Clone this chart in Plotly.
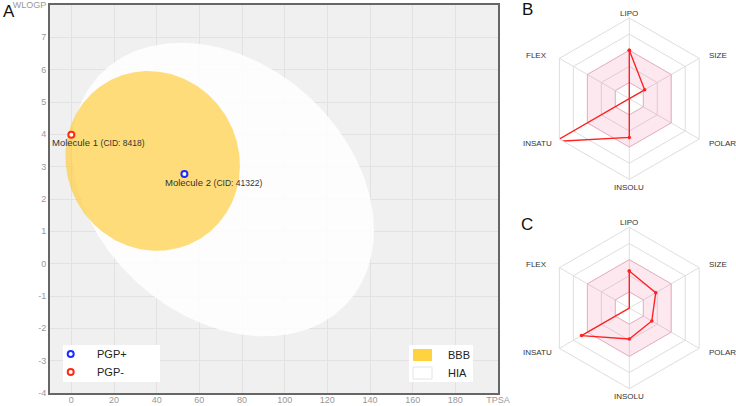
import numpy as np
import plotly.graph_objects as go

W, H = 736, 406

# ---------------- data ----------------
mol_names = ["Molecule 1", "Molecule 2"]
mol_cids = ["8418", "41322"]
mol_tpsa = [0.0, 53.0]
mol_wlogp = [3.99, 2.77]
mol_pgp = ["PGP-", "PGP+"]

# ellipse model: centre x, centre y, x half-extent, y half-extent, x/y correlation
bbb_ellipse = [38.117, 3.177, 40.9, 2.78, -0.05]
hia_ellipse = [71.051, 2.292, 70.8, 4.54, -0.277]

x_tickvals = [0, 20, 40, 60, 80, 100, 120, 140, 160, 180, 200]
x_ticktext = ["0", "20", "40", "60", "80", "100", "120", "140", "160", "180", "TPSA"]
y_tickvals = [-4, -3, -2, -1, 0, 1, 2, 3, 4, 5, 6, 7, 8]
y_ticktext = ["-4", "-3", "-2", "-1", "0", "1", "2", "3", "4", "5", "6", "7", "WLOGP"]

radar_axes = ["LIPO", "SIZE", "POLAR", "INSOLU", "INSATU", "FLEX"]
radar_mol1 = [3.0, 1.1, 0.0, 2.4, 5.29, 0.0]
radar_mol2 = [2.29, 1.89, 1.61, 1.92, 3.42, 0.0]
optimal_low = [1, 1, 1, 1, 1, 1]
optimal_high = [3, 3, 3, 3, 3, 3]

# ---------------- helpers ----------------
def px2x(px):
    return px / W

def px2y(py):
    return 1 - py / H

def ellipse(p, n=361):
    cx, cy, rx, ry, rho = p
    t = np.linspace(0, 2 * np.pi, n)
    x = cx + rx * np.cos(t)
    y = cy + ry * (rho * np.cos(t) + np.sqrt(1 - rho ** 2) * np.sin(t))
    return x, y

FONT = "Liberation Sans, Arial"
fig = go.Figure()
shapes = []
annotations = []

hx, hy = ellipse(hia_ellipse)
fig.add_trace(go.Scatter(x=hx, y=hy, mode="lines", fill="toself",
                         fillcolor="rgba(255,255,255,0.86)", line=dict(width=0),
                         hoverinfo="skip", showlegend=False))
bx, by = ellipse(bbb_ellipse)
fig.add_trace(go.Scatter(x=bx, y=by, mode="lines", fill="toself",
                         fillcolor="rgba(255,202,48,0.64)", line=dict(width=0),
                         hoverinfo="skip", showlegend=False))

pgp_colors = {"PGP+": "#1a2cff", "PGP-": "#ff2a12"}
for i in range(len(mol_names)):
    fig.add_trace(go.Scatter(x=[mol_tpsa[i]], y=[mol_wlogp[i]], mode="markers",
                             marker=dict(symbol="circle", size=6, color="white",
                                         line=dict(color=pgp_colors[mol_pgp[i]], width=2)),
                             showlegend=False, cliponaxis=False))
    annotations.append(dict(x=mol_tpsa[i], y=mol_wlogp[i], xref="x", yref="y",
                            text=f"{mol_names[i]} <span style='font-size:8.5px'>(CID: {mol_cids[i]})</span>",
                            showarrow=False, xanchor="left", yanchor="middle",
                            xshift=-21, yshift=-8,
                            font=dict(family=FONT, size=9.5, color="#333")))

# ---------------- radar charts ----------------
R = 80.7
centers = {"polar": (629.3, 98.7), "polar2": (629.3, 308.0)}
# label placement per axis: (dx, dy) in px from the centre, xanchor
label_place = [(0, -(R + 4.5), "center"),
               (R * 0.866 + 8, -R / 2 - 3, "left"),
               (R * 0.866 + 8, R / 2 + 4, "left"),
               (0, R + 8, "center"),
               (-(R * 0.866 + 5), R / 2 + 4, "right"),
               (-(R * 0.866 + 10), -R / 2 - 3, "right")]

def radar(polar_id, vals):
    th_closed = radar_axes + [radar_axes[0]]
    ring_theta = th_closed + [radar_axes[0]] + radar_axes[::-1]
    ring_r = optimal_high + [optimal_high[0]] + [optimal_low[0]] + optimal_low[::-1]
    fig.add_trace(go.Scatterpolar(r=ring_r, theta=ring_theta, mode="lines", fill="toself",
                                  fillcolor="rgba(240,100,150,0.15)", line=dict(width=0),
                                  subplot=polar_id, hoverinfo="skip", showlegend=False))
    for lim in (optimal_high, optimal_low):
        fig.add_trace(go.Scatterpolar(r=lim + [lim[0]], theta=th_closed, mode="lines",
                                      line=dict(color="rgba(235,150,175,0.55)", width=1),
                                      subplot=polar_id, hoverinfo="skip", showlegend=False))
    fig.add_trace(go.Scatterpolar(r=vals + [vals[0]], theta=th_closed, mode="lines+markers",
                                  line=dict(color="#ff2222", width=1.4),
                                  marker=dict(size=3.5, color="#ff2222"),
                                  subplot=polar_id, showlegend=False))
    cx, cy = centers[polar_id]
    for name, (dx, dy, xa) in zip(radar_axes, label_place):
        annotations.append(dict(x=px2x(cx + dx), y=px2y(cy + dy), xref="paper", yref="paper",
                                text=name, showarrow=False, xanchor=xa, yanchor="middle",
                                font=dict(family=FONT, size=8, color="#333")))

radar("polar", radar_mol1)
radar("polar2", radar_mol2)

def polar_layout(pid):
    cx, cy = centers[pid]
    return dict(
        domain=dict(x=[px2x(cx - R), px2x(cx + R)], y=[px2y(cy + R), px2y(cy - R)]),
        bgcolor="rgba(0,0,0,0)",
        gridshape="linear",
        radialaxis=dict(range=[0, 5], tickvals=[1, 2, 3, 4], showticklabels=False,
                        ticks="", showline=False, gridcolor="#dedede", gridwidth=1),
        angularaxis=dict(type="category", categoryarray=radar_axes, rotation=90,
                         direction="clockwise", showline=True, linecolor="#dedede",
                         linewidth=1, gridcolor="#dedede", ticks="",
                         showticklabels=False),
    )

# legend PGP
shapes.append(dict(type="rect", xref="paper", yref="paper",
                   x0=px2x(63), x1=px2x(160), y0=px2y(382), y1=px2y(345),
                   fillcolor="white", line=dict(width=0), layer="above"))
for lab, py in (("PGP+", 354), ("PGP-", 372)):
    shapes.append(dict(type="circle", xref="paper", yref="paper",
                       x0=px2x(67.7), x1=px2x(73.7), y0=px2y(py + 3), y1=px2y(py - 3),
                       fillcolor="white", line=dict(color=pgp_colors[lab], width=2), layer="above"))
    annotations.append(dict(x=px2x(95), y=px2y(py), xref="paper", yref="paper", text=lab,
                            showarrow=False, xanchor="left", yanchor="middle",
                            font=dict(family=FONT, size=11, color="#222")))

# legend BBB / HIA
shapes.append(dict(type="rect", xref="paper", yref="paper",
                   x0=px2x(409), x1=px2x(473), y0=px2y(382), y1=px2y(345),
                   fillcolor="white", line=dict(width=0), layer="above"))
shapes.append(dict(type="rect", xref="paper", yref="paper",
                   x0=px2x(413), x1=px2x(432), y0=px2y(361), y1=px2y(349),
                   fillcolor="#ffd23f", line=dict(width=0), layer="above"))
shapes.append(dict(type="rect", xref="paper", yref="paper",
                   x0=px2x(413), x1=px2x(432), y0=px2y(379), y1=px2y(367),
                   fillcolor="white", line=dict(color="#e4e4e4", width=1), layer="above"))
for lab, py in (("BBB", 355), ("HIA", 373)):
    annotations.append(dict(x=px2x(446), y=px2y(py), xref="paper", yref="paper", text=lab,
                            showarrow=False, xanchor="left", yanchor="middle",
                            font=dict(family=FONT, size=11, color="#222")))

for letter, px, py in (("A", 9, 11), ("B", 527, 10), ("C", 527, 224.5)):
    annotations.append(dict(x=px2x(px), y=px2y(py), xref="paper", yref="paper", text=letter,
                            showarrow=False, xanchor="center", yanchor="middle",
                            font=dict(family=FONT, size=17, color="#111")))

fig.update_layout(
    width=W, height=H, template="none",
    margin=dict(l=0, r=0, t=0, b=0),
    paper_bgcolor="white", plot_bgcolor="#f0f0f0",
    showlegend=False,
    xaxis=dict(domain=[px2x(50), px2x(498)], range=[-10, 200], tickvals=x_tickvals,
               ticktext=x_ticktext, showgrid=True, gridcolor="#e2e2e2", gridwidth=1,
               zeroline=False, showline=True, mirror=True, linecolor="#666", linewidth=2,
               ticks="", automargin=False, ticklabelstandoff=-3,
               tickfont=dict(family=FONT, size=9, color="#999")),
    yaxis=dict(domain=[px2y(393), px2y(5)], range=[-4, 8], tickvals=y_tickvals,
               ticktext=y_ticktext, showgrid=True, gridcolor="#e2e2e2", gridwidth=1,
               zeroline=False, showline=True, mirror=True, linecolor="#666", linewidth=2,
               ticks="", automargin=False,
               tickfont=dict(family=FONT, size=9, color="#999")),
    polar=polar_layout("polar"),
    polar2=polar_layout("polar2"),
    shapes=shapes,
    annotations=annotations,
)

fig.write_html("out.html")
